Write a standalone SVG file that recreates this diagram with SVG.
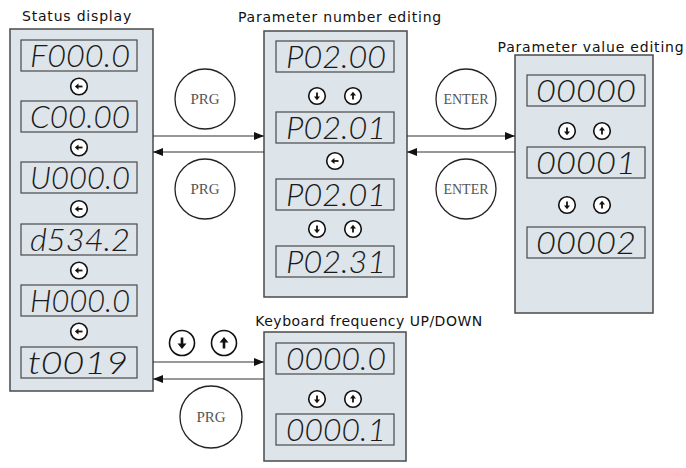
<svg xmlns="http://www.w3.org/2000/svg" width="686" height="468" viewBox="0 0 686 468">
<style>
.panel{fill:#dde4ea;stroke:#4a4a4a;stroke-width:1.5}
.disp{fill:#dde4ea;stroke:#4a4a4a;stroke-width:1.2}
.seg{font-family:Lato,"DejaVu Sans",sans-serif;font-style:italic;font-weight:300;font-size:32px;fill:#1a1a1a;text-anchor:middle}
.title{font-family:"DejaVu Sans",sans-serif;font-size:14px;letter-spacing:0.8px;fill:#111;text-anchor:middle}
.key{fill:#fff;stroke:#222;stroke-width:1.3}
.keyt{font-family:"Liberation Serif",serif;font-size:15px;fill:#555;text-anchor:middle}
.conn{stroke:#333;stroke-width:1.2;fill:none}
.btn{fill:#fff;stroke:#111;stroke-width:1.6}
</style>
<defs>
<marker id="ah" viewBox="0 0 10 8" refX="10" refY="4" markerWidth="10" markerHeight="8" markerUnits="userSpaceOnUse" orient="auto">
<path d="M0,0 L10,4 L0,8 Z" fill="#111"/>
</marker>
<g id="bL"><circle r="8.3" class="btn"/><path d="M-4.2,0 L-0.5,-3 L-0.5,3 Z" fill="#111"/><path d="M-1,0 H3.5" stroke="#111" stroke-width="1.8"/></g>
<g id="bD"><circle r="8.3" class="btn"/><path d="M0,4.2 L-3,0.5 L3,0.5 Z" fill="#111"/><path d="M0,1 V-3.5" stroke="#111" stroke-width="1.8"/></g>
<g id="bU"><circle r="8.3" class="btn"/><path d="M0,-4.2 L-3,-0.5 L3,-0.5 Z" fill="#111"/><path d="M0,-1 V3.5" stroke="#111" stroke-width="1.8"/></g>
<g id="BD"><circle r="12.5" class="btn"/><path d="M0,6 L-4.5,0.5 L4.5,0.5 Z" fill="#111"/><path d="M0,1 V-5.5" stroke="#111" stroke-width="2.6"/></g>
<g id="BU"><circle r="12.5" class="btn"/><path d="M0,-6 L-4.5,-0.5 L4.5,-0.5 Z" fill="#111"/><path d="M0,-1 V5.5" stroke="#111" stroke-width="2.6"/></g>
</defs>

<g id="status-display">
<text class="title" x="77" y="21">Status display</text>
<rect class="panel" x="10" y="29" width="143" height="362"/>
<rect class="disp" x="21" y="40" width="116" height="31"/><text class="seg" x="80" y="67" textLength="100" lengthAdjust="spacingAndGlyphs">F000.0</text>
<use href="#bL" x="79" y="86.5"/>
<rect class="disp" x="21" y="101" width="116" height="31"/><text class="seg" x="80" y="128" textLength="100" lengthAdjust="spacingAndGlyphs">C00.00</text>
<use href="#bL" x="79" y="147.5"/>
<rect class="disp" x="21" y="162" width="116" height="31"/><text class="seg" x="80" y="189" textLength="100" lengthAdjust="spacingAndGlyphs">U000.0</text>
<use href="#bL" x="79" y="209"/>
<rect class="disp" x="21" y="224" width="116" height="31"/><text class="seg" x="80" y="251" textLength="100" lengthAdjust="spacingAndGlyphs">d534.2</text>
<use href="#bL" x="79" y="270.5"/>
<rect class="disp" x="21" y="285" width="116" height="31"/><text class="seg" x="80" y="312" textLength="100" lengthAdjust="spacingAndGlyphs">H000.0</text>
<use href="#bL" x="79" y="331.5"/>
<rect class="disp" x="21" y="347" width="116" height="31"/><text class="seg" x="78" y="374" textLength="100" lengthAdjust="spacingAndGlyphs">t0019</text>
</g>

<g id="parameter-number-editing">
<text class="title" x="340" y="22">Parameter number editing</text>
<rect class="panel" x="264" y="31" width="143" height="266"/>
<rect class="disp" x="276" y="41" width="118" height="31"/><text class="seg" x="336" y="68" textLength="100" lengthAdjust="spacingAndGlyphs">P02.00</text>
<use href="#bD" x="317" y="96"/><use href="#bU" x="353" y="96"/>
<rect class="disp" x="276" y="112" width="118" height="31"/><text class="seg" x="336" y="139" textLength="100" lengthAdjust="spacingAndGlyphs">P02.01</text>
<use href="#bL" x="335" y="161"/>
<rect class="disp" x="276" y="179" width="118" height="31"/><text class="seg" x="336" y="206" textLength="100" lengthAdjust="spacingAndGlyphs">P02.01</text>
<use href="#bD" x="317" y="229"/><use href="#bU" x="353" y="229"/>
<rect class="disp" x="276" y="246" width="118" height="31"/><text class="seg" x="336" y="273" textLength="100" lengthAdjust="spacingAndGlyphs">P02.31</text>
</g>

<g id="parameter-value-editing">
<text class="title" x="591" y="52">Parameter value editing</text>
<rect class="panel" x="515" y="55" width="138" height="258"/>
<rect class="disp" x="527" y="75" width="118" height="31"/><text class="seg" x="586" y="102" textLength="100" lengthAdjust="spacingAndGlyphs">00000</text>
<use href="#bD" x="567" y="131"/><use href="#bU" x="602" y="131"/>
<rect class="disp" x="527" y="147" width="118" height="31"/><text class="seg" x="586" y="174" textLength="100" lengthAdjust="spacingAndGlyphs">00001</text>
<use href="#bD" x="567" y="205"/><use href="#bU" x="602" y="205"/>
<rect class="disp" x="527" y="227" width="118" height="31"/><text class="seg" x="586" y="254" textLength="100" lengthAdjust="spacingAndGlyphs">00002</text>
</g>

<g id="keyboard-frequency">
<text class="title" x="369" y="326" style="letter-spacing:0.5px">Keyboard frequency UP/DOWN</text>
<rect class="panel" x="264" y="332" width="142" height="129"/>
<rect class="disp" x="276" y="343" width="118" height="31"/><text class="seg" x="336" y="370" textLength="100" lengthAdjust="spacingAndGlyphs">0000.0</text>
<use href="#bD" x="317" y="399"/><use href="#bU" x="353" y="399"/>
<rect class="disp" x="276" y="414" width="118" height="31"/><text class="seg" x="336" y="441" textLength="100" lengthAdjust="spacingAndGlyphs">0000.1</text>
</g>

<g id="key-prg-1"><circle class="key" cx="205" cy="99" r="30"/><text class="keyt" x="205" y="104">PRG</text></g>
<g id="key-prg-2"><circle class="key" cx="205" cy="189" r="30"/><text class="keyt" x="205" y="194">PRG</text></g>
<g id="key-enter-1"><circle class="key" cx="466" cy="99" r="30"/><text class="keyt" x="466" y="104" style="font-size:14px">ENTER</text></g>
<g id="key-enter-2"><circle class="key" cx="466" cy="189" r="30"/><text class="keyt" x="466" y="194" style="font-size:14px">ENTER</text></g>
<g id="key-prg-3"><circle class="key" cx="211" cy="417" r="31"/><text class="keyt" x="211" y="422">PRG</text></g>
<g id="key-updown"><use href="#BD" x="182" y="343"/><use href="#BU" x="224" y="343"/></g>

<g id="connectors">
<line class="conn" x1="153" y1="136" x2="264" y2="136" marker-end="url(#ah)"/>
<line class="conn" x1="264" y1="152" x2="153" y2="152" marker-end="url(#ah)"/>
<line class="conn" x1="407" y1="136" x2="515" y2="136" marker-end="url(#ah)"/>
<line class="conn" x1="515" y1="152" x2="407" y2="152" marker-end="url(#ah)"/>
<line class="conn" x1="153" y1="362" x2="264" y2="362" marker-end="url(#ah)"/>
<line class="conn" x1="264" y1="379" x2="153" y2="379" marker-end="url(#ah)"/>
</g>
</svg>
